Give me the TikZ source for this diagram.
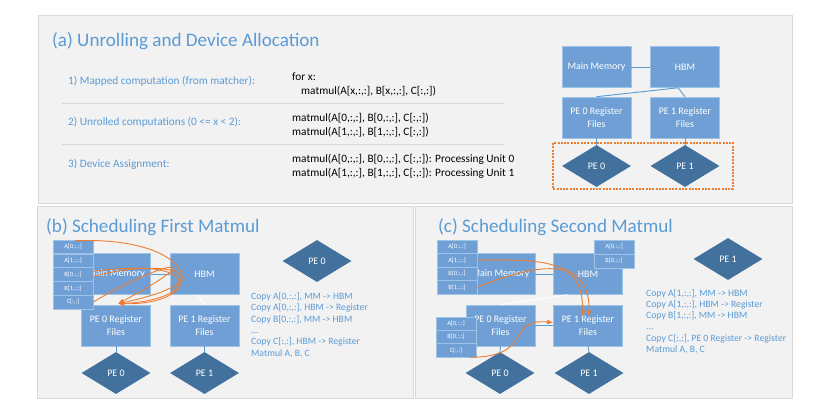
\documentclass[tikz,border=0pt]{standalone}
\usepackage{fontspec}
\setmainfont{Carlito}
\usepackage{tikz}
\usetikzlibrary{arrows.meta,shapes.geometric}
\definecolor{panelfill}{HTML}{F2F2F2}
\definecolor{paneledge}{HTML}{D9D9D9}
\definecolor{boxfill}{HTML}{6F9FD4}
\definecolor{boxedge}{HTML}{9DC3E6}
\definecolor{pedark}{HTML}{41719C}
\definecolor{linkblue}{HTML}{5B9BD5}
\definecolor{labelblue}{HTML}{5B9BD5}
\definecolor{moveorange}{HTML}{ED7D31}
\newcommand{\stepdots}{...}
\tikzset{
  panel/.style={draw=paneledge, line width=0.8pt, fill=panelfill},
  membox/.style={draw=boxedge, line width=0.6pt, fill=boxfill, text=white,
    minimum width=69pt, minimum height=41pt, align=center, inner sep=1pt,
    font=\fontsize{10}{12.5}\selectfont},
  pediamond/.style={diamond, fill=pedark, text=white, aspect=1.64,
    minimum width=69pt, minimum height=42pt, inner sep=0pt,
    font=\fontsize{10}{12}\selectfont},
  datacell/.style={draw=boxedge, line width=0.6pt, fill=boxfill, text=white,
    minimum width=40pt, minimum height=13.6pt, inner sep=0pt,
    font=\fontsize{6.4}{7}\selectfont},
  link/.style={draw=linkblue, line width=0.9pt},
  fadedlink/.style={draw=white, line width=0.9pt},
  devbox/.style={draw=moveorange, line width=1.1pt, dash pattern=on 2pt off 1.3pt},
  move/.style={draw=moveorange, line width=0.9pt, -{Latex[length=6pt,width=5pt]}},
  paneltitle/.style={anchor=base west, inner sep=0pt, text=labelblue,
    font=\fontsize{19.1}{22}\selectfont},
  rowlabel/.style={anchor=base west, inner sep=0pt, text=labelblue,
    font=\fontsize{11.3}{13}\selectfont},
  codeline/.style={anchor=base west, inner sep=0pt, text=black,
    font=\fontsize{11.3}{13}\selectfont},
  steptext/.style={anchor=base west, inner sep=0pt, text=labelblue,
    font=\fontsize{9.7}{11}\selectfont}
}

\begin{document}
\begin{tikzpicture}[x=1pt,y=-1pt]
  \useasboundingbox (0,0) rectangle (830,415);

  % Panel backgrounds.
  \draw[panel] (38,15) rectangle (792,203);
  \draw[panel] (37,206) rectangle (413,398);
  \draw[panel] (415,206) rectangle (792,398);

  % (a) Unrolling and device allocation.
  \node[paneltitle] (titleA) at (52,46) {(a) Unrolling and Device Allocation};
  \node[rowlabel] (rowA1) at (68,84) {1) Mapped computation (from matcher):};
  \node[rowlabel] (rowA2) at (68,125) {2) Unrolled computations (0 <= x < 2):};
  \node[rowlabel] (rowA3) at (68,167) {3) Device Assignment:};
  \draw[draw=paneledge, line width=0.8pt] (62,103) -- (504,103);
  \draw[draw=paneledge, line width=0.8pt] (62,144) -- (504,144);
  \node[codeline] (codeA1) at (292,80) {for x:};
  \node[codeline] (codeA2) at (301,94) {matmul(A[x,:,:], B[x,:,:], C[:,:])};
  \node[codeline] (codeA3) at (292,121) {matmul(A[0,:,:], B[0,:,:], C[:,:])};
  \node[codeline] (codeA4) at (292,135) {matmul(A[1,:,:], B[1,:,:], C[:,:])};
  \node[codeline] (codeA5) at (292,162) {matmul(A[0,:,:], B[0,:,:], C[:,:]): Processing Unit 0};
  \node[codeline] (codeA6) at (292,176) {matmul(A[1,:,:], B[1,:,:], C[:,:]): Processing Unit 1};

  \node[membox] (mmA) at (596.5,67) {Main Memory};
  \node[membox] (hbmA) at (685,67) {HBM};
  \node[membox] (rf0A) at (596.5,117.5) {PE 0 Register\\Files};
  \node[membox] (rf1A) at (685,117.5) {PE 1 Register\\Files};
  \node[pediamond] (pe0A) at (596.5,166) {PE 0};
  \node[pediamond] (pe1A) at (685,166) {PE 1};
  \draw[link] (mmA.east) -- (hbmA.west);
  \draw[link] ([xshift=-7pt]hbmA.south) -- (rf0A.north);
  \draw[link] ([xshift=-7pt]hbmA.south) -- (rf1A.north);
  \draw[link] (rf0A.south) -- (pe0A.north);
  \draw[link] (rf1A.south) -- (pe1A.north);
  \draw[devbox] (553,143) rectangle (733,189);

  % (b) Scheduling first matmul.
  \node[paneltitle] (titleB) at (46,232) {(b) Scheduling First Matmul};
  \node[membox] (mmB) at (116,274) {Main Memory};
  \node[membox] (hbmB) at (204.5,274) {HBM};
  \node[membox] (rf0B) at (116,325.5) {PE 0 Register\\Files};
  \node[membox] (rf1B) at (204.5,325.5) {PE 1 Register\\Files};
  \node[pediamond] (pe0B) at (116,373) {PE 0};
  \node[pediamond] (pe1B) at (204.5,373) {PE 1};
  \draw[link] (mmB.east) -- (hbmB.west);
  \draw[fadedlink] ([xshift=-7pt]hbmB.south) -- (rf1B.north);
  \draw[link] (rf0B.south) -- (pe0B.north);
  \draw[link] (rf1B.south) -- (pe1B.north);
  \foreach \lbl [count=\i] in {{A[0,:,:]},{A[1,:,:]},{B[0,:,:]},{B[1,:,:]},{C[:,:]}}
    \node[datacell] (cellB\i) at (73,233+13.8*\i) {\lbl};
  \node[pediamond] (peB) at (317,261) {PE 0};
  \foreach \txt [count=\i] in {{Copy A[0,:,:], MM -> HBM},{Copy A[0,:,:], HBM -> Register},
      {Copy B[0,:,:], MM -> HBM},{\stepdots},{Copy C[:,:], HBM -> Register},{Matmul A, B, C}}
    \node[steptext] (stepB\i) at (251,288.2+11.3*\i) {\txt};
  \draw[move] ([xshift=2pt,yshift=-1pt]cellB1.north) .. controls (200,236) and (215,305) .. ([xshift=2pt,yshift=1pt]rf0B.north);
  \draw[move] ([yshift=3pt]cellB3.east) .. controls (205,256) and (200,300) .. ([xshift=2pt,yshift=1pt]rf0B.north);
  \draw[move] ([yshift=-2pt]cellB3.east) .. controls (175,255) and (228,280) .. ([xshift=2pt,yshift=1pt]rf0B.north);
  \draw[move] (cellB5.east) .. controls (160,262) and (218,250) .. ([xshift=2pt,yshift=1pt]rf0B.north);

  % (c) Scheduling second matmul.
  \node[paneltitle] (titleC) at (438,232) {(c) Scheduling Second Matmul};
  \node[membox] (mmC) at (500.5,274) {Main Memory};
  \node[membox] (hbmC) at (588,274) {HBM};
  \node[membox] (rf0C) at (500.5,325.5) {PE 0 Register\\Files};
  \node[membox] (rf1C) at (588,325.5) {PE 1 Register\\Files};
  \node[pediamond] (pe0C) at (500,373) {PE 0};
  \node[pediamond] (pe1C) at (589,373) {PE 1};
  \draw[link] (mmC.east) -- (hbmC.west);
  \draw[link] (rf0C.east) -- (rf1C.west);
  \draw[fadedlink] ([xshift=-20pt]hbmC.south) -- (rf0C.north);
  \draw[link] (rf0C.south) -- (pe0C.north);
  \draw[link] (rf1C.south) -- (pe1C.north);
  \foreach \lbl [count=\i] in {{A[0,:,:]},{A[1,:,:]},{B[0,:,:]},{B[1,:,:]}}
    \node[datacell] (cellC\i) at (457,233.2+13.5*\i) {\lbl};
  \foreach \lbl [count=\i] in {{A[0,:,:]},{B[0,:,:]}}
    \node[datacell] (hbmcellC\i) at (614,233+14*\i) {\lbl};
  \foreach \lbl [count=\i] in {{A[0,:,:]},{B[0,:,:]},{C[:,:]}}
    \node[datacell] (rfcellC\i) at (456,310.3+13.3*\i) {\lbl};
  \node[pediamond] (peC) at (728,259) {PE 1};
  \foreach \txt [count=\i] in {{Copy A[1,:,:], MM -> HBM},{Copy A[1,:,:], HBM -> Register},
      {Copy B[1,:,:], MM -> HBM},{\stepdots},{Copy C[:,:], PE 0 Register -> Register},{Matmul A, B, C}}
    \node[steptext] (stepC\i) at (646,284.7+11.3*\i) {\txt};
  \draw[move] (cellC2.east) .. controls (560,258) and (582,266) .. ([xshift=-5pt,yshift=-12pt]rf1C.north);
  \draw[move] (cellC4.east) .. controls (540,262) and (590,256) .. ([xshift=1pt,yshift=-12pt]rf1C.north);
  \draw[move] ([xshift=-6pt]rfcellC3.south east) .. controls (535,357) and (505,318) .. ([yshift=3pt]rf1C.west);
\end{tikzpicture}
\end{document}
